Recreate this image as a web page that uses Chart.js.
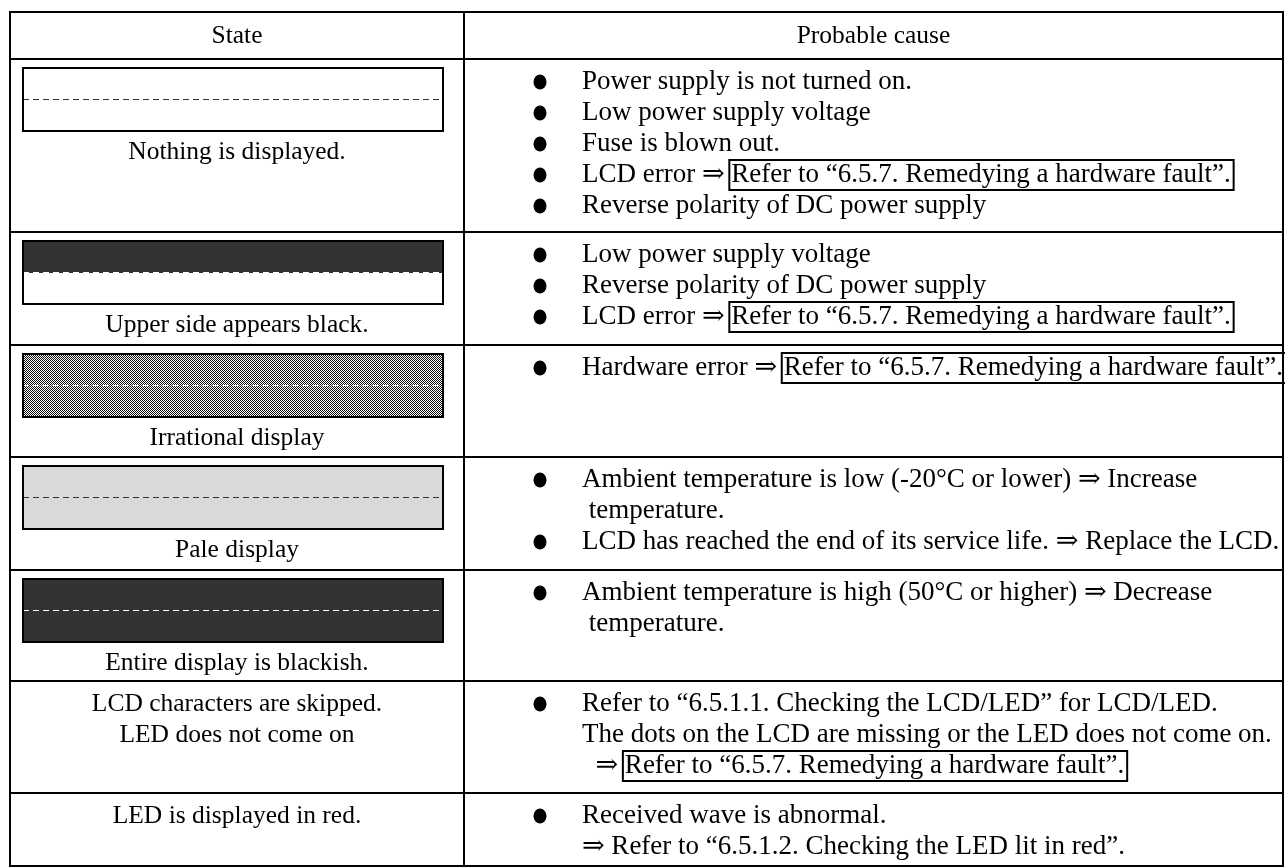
<!DOCTYPE html>
<html>
<head>
<meta charset="utf-8">
<script src="https://cdn.jsdelivr.net/npm/chart.js@4"></script>
<style>
    html, body { margin: 0; padding: 0; background: #fff; }
    #wrap { width: 1285px; height: 868px; }
</style>
</head>
<body>
<div id="wrap"><canvas id="tableChart" width="1285" height="868"></canvas></div>
<script>
// table content
const headers = ['State', 'Probable cause'];

const stateLabels = [
    ['Nothing is displayed.'],
    ['Upper side appears black.'],
    ['Irrational display'],
    ['Pale display'],
    ['Entire display is blackish.'],
    ['LCD characters are skipped.', 'LED does not come on'],
    ['LED is displayed in red.']
];

// how the little LCD picture looks in each row (null = no picture)
const screenLooks = ['blank', 'upperDark', 'garbled', 'pale', 'dark', null, null];

// each cause is a list of lines; text in [ ] gets a frame round it
const causes = [
    [
        ['Power supply is not turned on.'],
        ['Low power supply voltage'],
        ['Fuse is blown out.'],
        ['LCD error \u21D2 [Refer to \u201C6.5.7. Remedying a hardware fault\u201D.]'],
        ['Reverse polarity of DC power supply']
    ],
    [
        ['Low power supply voltage'],
        ['Reverse polarity of DC power supply'],
        ['LCD error \u21D2 [Refer to \u201C6.5.7. Remedying a hardware fault\u201D.]']
    ],
    [
        ['Hardware error \u21D2 [Refer to \u201C6.5.7. Remedying a hardware fault\u201D.]']
    ],
    [
        ['Ambient temperature is low (-20\u00B0C or lower) \u21D2 Increase', ' temperature.'],
        ['LCD has reached the end of its service life. \u21D2 Replace the LCD.']
    ],
    [
        ['Ambient temperature is high (50\u00B0C or higher) \u21D2 Decrease', ' temperature.']
    ],
    [
        ['Refer to \u201C6.5.1.1. Checking the LCD/LED\u201D for LCD/LED.',
         'The dots on the LCD are missing or the LED does not come on.',
         '  \u21D2 [Refer to \u201C6.5.7. Remedying a hardware fault\u201D.]']
    ],
    [
        ['Received wave is abnormal.',
         '\u21D2 Refer to \u201C6.5.1.2. Checking the LED lit in red\u201D.']
    ]
];

// layout (page units, mapped through the chart scales)
const colEdges = [10, 464, 1283];
const rowEdges = [12, 59, 232, 345, 457, 570, 681, 793, 866];
const firstLine = 23;
const lineGap = 31;
const stateFont = '25.5px "Liberation Serif", "DejaVu Serif", serif';
const causeFont = '27px "Liberation Serif", "DejaVu Serif", serif';

function makeDither(ctx) {
    const c = document.createElement('canvas');
    c.width = 2;
    c.height = 2;
    const g = c.getContext('2d');
    g.fillStyle = '#fff';
    g.fillRect(0, 0, 2, 2);
    g.fillStyle = '#111';
    g.fillRect(0, 0, 1, 1);
    g.fillRect(1, 1, 1, 1);
    return ctx.createPattern(c, 'repeat');
}

function drawScreen(ctx, look, x0, y0, x1, y1) {
    const w = x1 - x0, h = y1 - y0;
    const mid = Math.round(y0 + h / 2);
    let dashColor = '#333';
    if (look === 'blank') {
        ctx.fillStyle = '#fff';
        ctx.fillRect(x0, y0, w, h);
    } else if (look === 'upperDark') {
        ctx.fillStyle = '#fff';
        ctx.fillRect(x0, y0, w, h);
        ctx.fillStyle = '#333';
        ctx.fillRect(x0, y0, w, mid - y0);
        dashColor = '#fff';
    } else if (look === 'garbled') {
        ctx.fillStyle = makeDither(ctx);
        ctx.fillRect(x0, y0, w, h);
        dashColor = '#fff';
    } else if (look === 'pale') {
        ctx.fillStyle = '#d9d9d9';
        ctx.fillRect(x0, y0, w, h);
        dashColor = '#333';
    } else if (look === 'dark') {
        ctx.fillStyle = '#333';
        ctx.fillRect(x0, y0, w, h);
        dashColor = '#fff';
    }
    ctx.save();
    ctx.strokeStyle = dashColor;
    ctx.lineWidth = 1;
    ctx.setLineDash([6, 4]);
    ctx.beginPath();
    ctx.moveTo(x0, mid - 0.5);
    ctx.lineTo(x1, mid - 0.5);
    ctx.stroke();
    ctx.restore();
    ctx.strokeStyle = '#000';
    ctx.lineWidth = 2;
    ctx.strokeRect(x0, y0, w, h);
}

function drawCauseLine(ctx, line, x, y) {
    const m = line.match(/^(.*?)\[(.*)\](.*)$/);
    if (!m) {
        ctx.fillText(line, x, y);
        return;
    }
    ctx.fillText(m[1], x, y);
    const bx = x + ctx.measureText(m[1]).width;
    const bw = ctx.measureText(m[2]).width;
    ctx.fillText(m[2], bx, y);
    ctx.lineWidth = 2;
    ctx.strokeStyle = '#000';
    ctx.strokeRect(bx - 2, y - 15, bw + 5, 30);
    if (m[3]) ctx.fillText(m[3], bx + bw, y);
}

const tablePlugin = {
    id: 'troubleTable',
    afterDraw(chart) {
        const ctx = chart.ctx;
        const xs = chart.scales.x;
        const ys = chart.scales.y;
        const X = (v) => xs.getPixelForValue(v);
        const Y = (v) => ys.getPixelForValue(v);
        const left = X(colEdges[0]), split = X(colEdges[1]), right = X(colEdges[2]);
        const stateMid = (left + split) / 2;
        const causeMid = (split + right) / 2;
        const bulletX = X(540);
        const textX = X(582);

        ctx.save();
        ctx.fillStyle = '#fff';
        ctx.fillRect(0, 0, chart.width, chart.height);

        // header
        ctx.fillStyle = '#000';
        ctx.textBaseline = 'middle';
        ctx.textAlign = 'center';
        ctx.font = stateFont;
        const hy = (Y(rowEdges[0]) + Y(rowEdges[1])) / 2 + 1;
        ctx.fillText(headers[0], stateMid, hy);
        ctx.fillText(headers[1], causeMid, hy);

        stateLabels.forEach((labels, r) => {
            const top = Y(rowEdges[r + 1]);
            const look = screenLooks[r];
            ctx.textAlign = 'center';
            ctx.font = stateFont;
            ctx.fillStyle = '#000';
            if (look) {
                const by0 = top + 9, by1 = top + 72;
                drawScreen(ctx, look, X(23), by0, X(443), by1);
                ctx.fillStyle = '#000';
                labels.forEach((t, i) => ctx.fillText(t, stateMid, by1 + 21 + i * lineGap));
            } else {
                labels.forEach((t, i) => ctx.fillText(t, stateMid, top + firstLine + i * lineGap));
            }

            // causes
            ctx.textAlign = 'left';
            ctx.font = causeFont;
            let n = 0;
            causes[r].forEach((item) => {
                item.forEach((line, j) => {
                    const y = top + firstLine + n * lineGap;
                    ctx.fillStyle = '#000';
                    if (j === 0) {
                        ctx.beginPath();
                        ctx.ellipse(bulletX, y, 6.5, 7.5, 0, 0, Math.PI * 2);
                        ctx.fill();
                    }
                    drawCauseLine(ctx, line, textX, y);
                    n++;
                });
            });
        });

        // grid
        ctx.strokeStyle = '#000';
        ctx.lineWidth = 2;
        ctx.beginPath();
        rowEdges.forEach((v) => {
            ctx.moveTo(left - 1, Y(v));
            ctx.lineTo(right + 1, Y(v));
        });
        colEdges.forEach((v) => {
            ctx.moveTo(X(v), Y(rowEdges[0]));
            ctx.lineTo(X(v), Y(rowEdges[rowEdges.length - 1]));
        });
        ctx.stroke();
        ctx.restore();
    }
};

new Chart(document.getElementById('tableChart'), {
    type: 'scatter',
    data: { datasets: [{ data: [] }] },
    options: {
        responsive: false,
        animation: false,
        layout: { padding: 0 },
        plugins: { legend: { display: false }, tooltip: { enabled: false } },
        scales: {
            x: { type: 'linear', min: 0, max: 1285, display: false },
            y: { type: 'linear', min: 0, max: 868, reverse: true, display: false }
        }
    },
    plugins: [tablePlugin]
});
</script>
</body>
</html>
